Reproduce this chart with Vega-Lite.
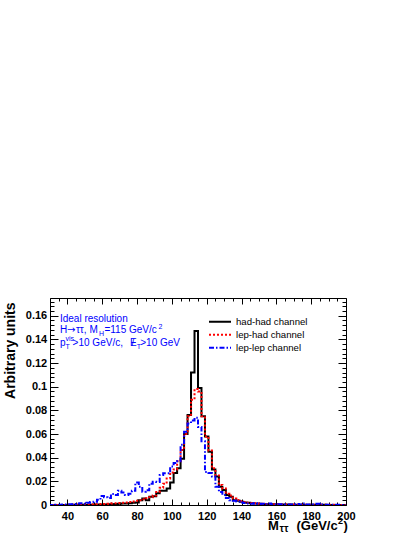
{
  "$schema": "https://vega.github.io/schema/vega-lite/v6.json",
  "width": 296,
  "height": 207,
  "autosize": "none",
  "padding": {"left": 50, "top": 298, "right": 69, "bottom": 32},
  "background": "white",
  "config": {"view": {"stroke": "black", "strokeWidth": 1}, "font": "Liberation Sans"},
  "datasets": {
    "h": [
      {"m": 29, "hh": 0, "lh": 0, "ll": 0},
      {"m": 31, "hh": 0, "lh": 0, "ll": 0},
      {"m": 33, "hh": 0, "lh": 0, "ll": 0.0003},
      {"m": 35, "hh": 0, "lh": 0, "ll": 0.0002},
      {"m": 37, "hh": 0, "lh": 0.0001, "ll": 0.0005},
      {"m": 39, "hh": 0.0001, "lh": 0.0001, "ll": 0.0004},
      {"m": 41, "hh": 0.0001, "lh": 0.0002, "ll": 0.0006},
      {"m": 43, "hh": 0.0002, "lh": 0.0002, "ll": 0.0008},
      {"m": 45, "hh": 0.0002, "lh": 0.0003, "ll": 0.0012},
      {"m": 47, "hh": 0.0003, "lh": 0.0003, "ll": 0.0015},
      {"m": 49, "hh": 0.0002, "lh": 0.0004, "ll": 0.001},
      {"m": 51, "hh": 0.0003, "lh": 0.0004, "ll": 0.0018},
      {"m": 53, "hh": 0.0003, "lh": 0.0005, "ll": 0.0025},
      {"m": 55, "hh": 0.0004, "lh": 0.0006, "ll": 0.0028},
      {"m": 57, "hh": 0.0004, "lh": 0.0007, "ll": 0.0045},
      {"m": 59, "hh": 0.0005, "lh": 0.0008, "ll": 0.0076},
      {"m": 61, "hh": 0.0005, "lh": 0.0009, "ll": 0.0065},
      {"m": 63, "hh": 0.0006, "lh": 0.001, "ll": 0.006},
      {"m": 65, "hh": 0.0007, "lh": 0.0012, "ll": 0.0093},
      {"m": 67, "hh": 0.0008, "lh": 0.0014, "ll": 0.0085},
      {"m": 69, "hh": 0.001, "lh": 0.0016, "ll": 0.012},
      {"m": 71, "hh": 0.0012, "lh": 0.0018, "ll": 0.0105},
      {"m": 73, "hh": 0.0013, "lh": 0.0021, "ll": 0.0085},
      {"m": 75, "hh": 0.0015, "lh": 0.0025, "ll": 0.0095},
      {"m": 77, "hh": 0.0018, "lh": 0.003, "ll": 0.012},
      {"m": 79, "hh": 0.0022, "lh": 0.0035, "ll": 0.019},
      {"m": 81, "hh": 0.004, "lh": 0.004, "ll": 0.0155},
      {"m": 83, "hh": 0.0055, "lh": 0.0048, "ll": 0.0113},
      {"m": 85, "hh": 0.004, "lh": 0.0058, "ll": 0.0125},
      {"m": 87, "hh": 0.007, "lh": 0.0065, "ll": 0.018},
      {"m": 89, "hh": 0.0075, "lh": 0.008, "ll": 0.0197},
      {"m": 91, "hh": 0.01, "lh": 0.011, "ll": 0.0195},
      {"m": 93, "hh": 0.012, "lh": 0.0145, "ll": 0.0254},
      {"m": 95, "hh": 0.012, "lh": 0.018, "ll": 0.0268},
      {"m": 97, "hh": 0.014, "lh": 0.0225, "ll": 0.0268},
      {"m": 99, "hh": 0.019, "lh": 0.0275, "ll": 0.0325},
      {"m": 101, "hh": 0.027, "lh": 0.03, "ll": 0.0356},
      {"m": 103, "hh": 0.031, "lh": 0.037, "ll": 0.037},
      {"m": 105, "hh": 0.039, "lh": 0.0466, "ll": 0.051},
      {"m": 107, "hh": 0.06, "lh": 0.06, "ll": 0.062},
      {"m": 109, "hh": 0.076, "lh": 0.075, "ll": 0.069},
      {"m": 111, "hh": 0.112, "lh": 0.089, "ll": 0.0715},
      {"m": 113, "hh": 0.147, "lh": 0.098, "ll": 0.0737},
      {"m": 115, "hh": 0.099, "lh": 0.096, "ll": 0.066},
      {"m": 117, "hh": 0.075, "lh": 0.075, "ll": 0.054},
      {"m": 119, "hh": 0.058, "lh": 0.058, "ll": 0.028},
      {"m": 121, "hh": 0.045, "lh": 0.046, "ll": 0.027},
      {"m": 123, "hh": 0.03, "lh": 0.031, "ll": 0.024},
      {"m": 125, "hh": 0.024, "lh": 0.025, "ll": 0.0155},
      {"m": 127, "hh": 0.0155, "lh": 0.017, "ll": 0.011},
      {"m": 129, "hh": 0.0127, "lh": 0.014, "ll": 0.0085},
      {"m": 131, "hh": 0.0084, "lh": 0.0095, "ll": 0.006},
      {"m": 133, "hh": 0.007, "lh": 0.008, "ll": 0.004},
      {"m": 135, "hh": 0.004, "lh": 0.0055, "ll": 0.0035},
      {"m": 137, "hh": 0.0035, "lh": 0.0042, "ll": 0.003},
      {"m": 139, "hh": 0.0028, "lh": 0.0032, "ll": 0.0022},
      {"m": 141, "hh": 0.0022, "lh": 0.0026, "ll": 0.0016},
      {"m": 143, "hh": 0.0018, "lh": 0.002, "ll": 0.0012},
      {"m": 145, "hh": 0.0015, "lh": 0.0017, "ll": 0.001},
      {"m": 147, "hh": 0.0012, "lh": 0.0014, "ll": 0.0014},
      {"m": 149, "hh": 0.001, "lh": 0.0012, "ll": 0.0008},
      {"m": 151, "hh": 0.0008, "lh": 0.001, "ll": 0.001},
      {"m": 153, "hh": 0.0007, "lh": 0.0009, "ll": 0.0006},
      {"m": 155, "hh": 0.0006, "lh": 0.0008, "ll": 0.0012},
      {"m": 157, "hh": 0.0006, "lh": 0.0007, "ll": 0.0005},
      {"m": 159, "hh": 0.0005, "lh": 0.0006, "ll": 0.0004},
      {"m": 161, "hh": 0.0005, "lh": 0.0005, "ll": 0.0006},
      {"m": 163, "hh": 0.0004, "lh": 0.0005, "ll": 0.0003},
      {"m": 165, "hh": 0.0004, "lh": 0.0004, "ll": 0.0005},
      {"m": 167, "hh": 0.0004, "lh": 0.0004, "ll": 0.0004},
      {"m": 169, "hh": 0.0003, "lh": 0.0004, "ll": 0.0003},
      {"m": 171, "hh": 0.0003, "lh": 0.0003, "ll": 0.0008},
      {"m": 173, "hh": 0.0003, "lh": 0.0003, "ll": 0.0004},
      {"m": 175, "hh": 0.0003, "lh": 0.0003, "ll": 0.0012},
      {"m": 177, "hh": 0.0002, "lh": 0.0003, "ll": 0.0004},
      {"m": 179, "hh": 0.0002, "lh": 0.0003, "ll": 0.0003},
      {"m": 181, "hh": 0.0002, "lh": 0.0002, "ll": 0.0005},
      {"m": 183, "hh": 0.0002, "lh": 0.0002, "ll": 0.001},
      {"m": 185, "hh": 0.0002, "lh": 0.0002, "ll": 0.0004},
      {"m": 187, "hh": 0.0002, "lh": 0.0002, "ll": 0.0003},
      {"m": 189, "hh": 0.0001, "lh": 0.0002, "ll": 0.0002},
      {"m": 191, "hh": 0.0001, "lh": 0.0002, "ll": 0.0003},
      {"m": 193, "hh": 0.0001, "lh": 0.0001, "ll": 0.0002},
      {"m": 195, "hh": 0.0001, "lh": 0.0001, "ll": 0.0002},
      {"m": 197, "hh": 0.0001, "lh": 0.0001, "ll": 0.0001},
      {"m": 199, "hh": 0.0001, "lh": 0.0001, "ll": 0.0001},
      {"m": 201, "hh": 0.0001, "lh": 0.0001, "ll": 0.0001}
    ]
  },
  "layer": [
    {
      "data": {"name": "h"},
      "transform": [{"fold": ["hh", "lh", "ll"], "as": ["ch", "v"]}],
      "mark": {"type": "line", "interpolate": "step-after", "strokeWidth": 2, "clip": true},
      "encoding": {
        "x": {
          "field": "m", "type": "quantitative",
          "scale": {"domain": [30, 200], "nice": false, "zero": false},
          "axis": {
            "orient": "bottom", "title": null, "domain": false, "grid": false,
            "values": [30,35,40,45,50,55,60,65,70,75,80,85,90,95,100,105,110,115,120,125,130,135,140,145,150,155,160,165,170,175,180,185,190,195,200],
            "tickSize": {"condition": {"test": "datum.value % 20 === 0", "value": -6}, "value": -3},
            "tickColor": "black", "tickWidth": 1,
            "labelExpr": "datum.value % 20 === 0 ? format(datum.value, 'd') : ''",
            "labelFont": "Liberation Sans", "labelFontWeight": "bold", "labelFontSize": 11, "labelColor": "black",
            "labelPadding": 11, "labelOverlap": false, "labelFlush": false, "labelBound": false
          }
        },
        "y": {
          "field": "v", "type": "quantitative",
          "scale": {"domain": [0, 0.175], "nice": false},
          "axis": {
            "orient": "left", "domain": false, "grid": false,
            "values": [0,0.004,0.008,0.012,0.016,0.02,0.024,0.028,0.032,0.036,0.04,0.044,0.048,0.052,0.056,0.06,0.064,0.068,0.072,0.076,0.08,0.084,0.088,0.092,0.096,0.1,0.104,0.108,0.112,0.116,0.12,0.124,0.128,0.132,0.136,0.14,0.144,0.148,0.152,0.156,0.16,0.164,0.168,0.172],
            "tickSize": {"condition": {"test": "round(datum.value * 1000) % 20 === 0", "value": -8}, "value": -4},
            "tickColor": "black", "tickWidth": 1,
            "labelExpr": "round(datum.value * 1000) % 20 === 0 ? format(datum.value, '.2~f') : ''",
            "labelFont": "Liberation Sans", "labelFontWeight": "bold", "labelFontSize": 11, "labelColor": "black",
            "labelPadding": 11.3, "labelOverlap": false, "labelFlush": false, "labelBound": false,
            "title": "Arbitrary units", "titleFont": "Liberation Sans", "titleFontWeight": "bold",
            "titleFontSize": 14, "titleColor": "black", "titleAngle": 270, "titleAlign": "right",
            "titleBaseline": "bottom", "titleX": -33, "titleY": 4
          }
        },
        "color": {
          "field": "ch", "type": "nominal",
          "scale": {"domain": ["hh", "lh", "ll"], "range": ["#000000", "#ff0000", "#0000ff"]},
          "legend": {
            "orient": "none", "legendX": 158, "legendY": 17.5, "title": null,
            "symbolType": "stroke", "symbolSize": 484, "symbolStrokeWidth": 2,
            "labelFont": "Liberation Sans", "labelFontSize": 9.6, "labelColor": "black",
            "labelOffset": 4, "rowPadding": 0, "clipHeight": 12.6, "padding": 0,
            "labelExpr": "datum.label === 'hh' ? 'had-had channel' : datum.label === 'lh' ? 'lep-had channel' : 'lep-lep channel'"
          }
        },
        "strokeDash": {
          "field": "ch", "type": "nominal",
          "scale": {"domain": ["hh", "lh", "ll"], "range": [[1, 0], [2, 2], [5, 2, 1.5, 2]]},
          "legend": {
            "orient": "none", "legendX": 158, "legendY": 17.5, "title": null,
            "symbolType": "stroke", "symbolSize": 484, "symbolStrokeWidth": 2,
            "labelFont": "Liberation Sans", "labelFontSize": 9.6, "labelColor": "black",
            "labelOffset": 4, "rowPadding": 0, "clipHeight": 12.6, "padding": 0,
            "labelExpr": "datum.label === 'hh' ? 'had-had channel' : datum.label === 'lh' ? 'lep-had channel' : 'lep-lep channel'"
          }
        }
      }
    },
    {
      "data": {"name": "h"},
      "transform": [{"fold": ["hh", "lh", "ll"], "as": ["ch", "v"]}],
      "mark": {"type": "point", "opacity": 0},
      "encoding": {
        "x": {
          "field": "m", "type": "quantitative",
          "scale": {"domain": [30, 200], "nice": false, "zero": false},
          "axis": {
            "orient": "top", "title": null, "domain": false, "grid": false, "labels": false,
            "values": [30,35,40,45,50,55,60,65,70,75,80,85,90,95,100,105,110,115,120,125,130,135,140,145,150,155,160,165,170,175,180,185,190,195,200],
            "tickSize": {"condition": {"test": "datum.value % 20 === 0", "value": -6}, "value": -3},
            "tickColor": "black", "tickWidth": 1
          }
        },
        "y": {
          "field": "v", "type": "quantitative",
          "scale": {"domain": [0, 0.175], "nice": false},
          "axis": {
            "orient": "right", "title": null, "domain": false, "grid": false, "labels": false,
            "values": [0,0.004,0.008,0.012,0.016,0.02,0.024,0.028,0.032,0.036,0.04,0.044,0.048,0.052,0.056,0.06,0.064,0.068,0.072,0.076,0.08,0.084,0.088,0.092,0.096,0.1,0.104,0.108,0.112,0.116,0.12,0.124,0.128,0.132,0.136,0.14,0.144,0.148,0.152,0.156,0.16,0.164,0.168,0.172],
            "tickSize": {"condition": {"test": "round(datum.value * 1000) % 20 === 0", "value": -8}, "value": -4},
            "tickColor": "black", "tickWidth": 1
          }
        }
      }
    },
    {"data": {"values": [{}]}, "mark": {"type": "text", "text": "Ideal resolution", "font": "Liberation Sans", "fontSize": 10, "color": "#0000ff", "align": "left", "baseline": "alphabetic"},
     "encoding": {"x": {"datum": 35.7, "type": "quantitative", "axis": null}, "y": {"datum": 0.1543, "type": "quantitative", "axis": null}}},
    {"data": {"values": [{}]}, "mark": {"type": "text", "text": "H", "font": "Liberation Sans", "fontSize": 10, "color": "#0000ff", "align": "left", "baseline": "alphabetic"},
     "encoding": {"x": {"datum": 35.7, "type": "quantitative", "axis": null}, "y": {"datum": 0.145, "type": "quantitative", "axis": null}}},
    {"data": {"values": [{}]}, "mark": {"type": "text", "text": "→", "font": "DejaVu Sans", "fontSize": 10, "color": "#0000ff", "align": "left", "baseline": "alphabetic", "dx": 7.2},
     "encoding": {"x": {"datum": 35.7, "type": "quantitative", "axis": null}, "y": {"datum": 0.145, "type": "quantitative", "axis": null}}},
    {"data": {"values": [{}]}, "mark": {"type": "text", "text": "ττ, M", "font": "Liberation Sans", "fontSize": 10, "color": "#0000ff", "align": "left", "baseline": "alphabetic", "dx": 16},
     "encoding": {"x": {"datum": 35.7, "type": "quantitative", "axis": null}, "y": {"datum": 0.145, "type": "quantitative", "axis": null}}},
    {"data": {"values": [{}]}, "mark": {"type": "text", "text": "H", "font": "Liberation Sans", "fontSize": 7, "color": "#0000ff", "align": "left", "baseline": "alphabetic", "dx": 39, "dy": 3},
     "encoding": {"x": {"datum": 35.7, "type": "quantitative", "axis": null}, "y": {"datum": 0.145, "type": "quantitative", "axis": null}}},
    {"data": {"values": [{}]}, "mark": {"type": "text", "text": "=115 GeV/c", "font": "Liberation Sans", "fontSize": 10, "color": "#0000ff", "align": "left", "baseline": "alphabetic", "dx": 44.5},
     "encoding": {"x": {"datum": 35.7, "type": "quantitative", "axis": null}, "y": {"datum": 0.145, "type": "quantitative", "axis": null}}},
    {"data": {"values": [{}]}, "mark": {"type": "text", "text": "2", "font": "Liberation Sans", "fontSize": 7, "color": "#0000ff", "align": "left", "baseline": "alphabetic", "dx": 98.5, "dy": -4},
     "encoding": {"x": {"datum": 35.7, "type": "quantitative", "axis": null}, "y": {"datum": 0.145, "type": "quantitative", "axis": null}}},
    {"data": {"values": [{}]}, "mark": {"type": "text", "text": "p", "font": "Liberation Sans", "fontSize": 10, "color": "#0000ff", "align": "left", "baseline": "alphabetic"},
     "encoding": {"x": {"datum": 35.7, "type": "quantitative", "axis": null}, "y": {"datum": 0.1348, "type": "quantitative", "axis": null}}},
    {"data": {"values": [{}]}, "mark": {"type": "text", "text": "T", "font": "Liberation Sans", "fontSize": 7, "color": "#0000ff", "align": "left", "baseline": "alphabetic", "dx": 5.5, "dy": 3},
     "encoding": {"x": {"datum": 35.7, "type": "quantitative", "axis": null}, "y": {"datum": 0.1348, "type": "quantitative", "axis": null}}},
    {"data": {"values": [{}]}, "mark": {"type": "text", "text": "vis", "font": "Liberation Sans", "fontSize": 7, "color": "#0000ff", "align": "left", "baseline": "alphabetic", "dx": 5.5, "dy": -4.5},
     "encoding": {"x": {"datum": 35.7, "type": "quantitative", "axis": null}, "y": {"datum": 0.1348, "type": "quantitative", "axis": null}}},
    {"data": {"values": [{}]}, "mark": {"type": "text", "text": ">10 GeV/c,", "font": "Liberation Sans", "fontSize": 10, "color": "#0000ff", "align": "left", "baseline": "alphabetic", "dx": 12.7},
     "encoding": {"x": {"datum": 35.7, "type": "quantitative", "axis": null}, "y": {"datum": 0.1348, "type": "quantitative", "axis": null}}},
    {"data": {"values": [{}]}, "mark": {"type": "text", "text": "E", "font": "Liberation Sans", "fontSize": 10, "color": "#0000ff", "align": "left", "baseline": "alphabetic", "dx": 70},
     "encoding": {"x": {"datum": 35.7, "type": "quantitative", "axis": null}, "y": {"datum": 0.1348, "type": "quantitative", "axis": null}}},
    {"data": {"values": [{}]}, "mark": {"type": "text", "text": "/", "font": "Liberation Sans", "fontSize": 10, "color": "#0000ff", "align": "left", "baseline": "alphabetic", "dx": 71.6},
     "encoding": {"x": {"datum": 35.7, "type": "quantitative", "axis": null}, "y": {"datum": 0.1348, "type": "quantitative", "axis": null}}},
    {"data": {"values": [{}]}, "mark": {"type": "text", "text": "T", "font": "Liberation Sans", "fontSize": 7, "color": "#0000ff", "align": "left", "baseline": "alphabetic", "dx": 76.8, "dy": 3},
     "encoding": {"x": {"datum": 35.7, "type": "quantitative", "axis": null}, "y": {"datum": 0.1348, "type": "quantitative", "axis": null}}},
    {"data": {"values": [{}]}, "mark": {"type": "text", "text": ">10 GeV", "font": "Liberation Sans", "fontSize": 10, "color": "#0000ff", "align": "left", "baseline": "alphabetic", "dx": 80.3},
     "encoding": {"x": {"datum": 35.7, "type": "quantitative", "axis": null}, "y": {"datum": 0.1348, "type": "quantitative", "axis": null}}},
    {"data": {"values": [{}]}, "mark": {"type": "text", "text": "M", "font": "Liberation Sans", "fontSize": 13, "fontWeight": "bold", "color": "black", "align": "left", "baseline": "alphabetic", "dy": 24.5},
     "encoding": {"x": {"datum": 155.2, "type": "quantitative", "axis": null}, "y": {"datum": 0, "type": "quantitative", "axis": null}}},
    {"data": {"values": [{}]}, "mark": {"type": "text", "text": "ττ", "font": "Liberation Sans", "fontSize": 10, "fontWeight": "bold", "color": "black", "align": "left", "baseline": "alphabetic", "dx": 11.5, "dy": 26.5},
     "encoding": {"x": {"datum": 155.2, "type": "quantitative", "axis": null}, "y": {"datum": 0, "type": "quantitative", "axis": null}}},
    {"data": {"values": [{}]}, "mark": {"type": "text", "text": "(GeV/c", "font": "Liberation Sans", "fontSize": 13, "fontWeight": "bold", "color": "black", "align": "left", "baseline": "alphabetic", "dx": 28.5, "dy": 24.5},
     "encoding": {"x": {"datum": 155.2, "type": "quantitative", "axis": null}, "y": {"datum": 0, "type": "quantitative", "axis": null}}},
    {"data": {"values": [{}]}, "mark": {"type": "text", "text": "2", "font": "Liberation Sans", "fontSize": 9, "fontWeight": "bold", "color": "black", "align": "left", "baseline": "alphabetic", "dx": 70, "dy": 19},
     "encoding": {"x": {"datum": 155.2, "type": "quantitative", "axis": null}, "y": {"datum": 0, "type": "quantitative", "axis": null}}},
    {"data": {"values": [{}]}, "mark": {"type": "text", "text": ")", "font": "Liberation Sans", "fontSize": 13, "fontWeight": "bold", "color": "black", "align": "left", "baseline": "alphabetic", "dx": 75.5, "dy": 24.5},
     "encoding": {"x": {"datum": 155.2, "type": "quantitative", "axis": null}, "y": {"datum": 0, "type": "quantitative", "axis": null}}}
  ],
  "resolve": {"axis": {"x": "independent", "y": "independent"}}
}
